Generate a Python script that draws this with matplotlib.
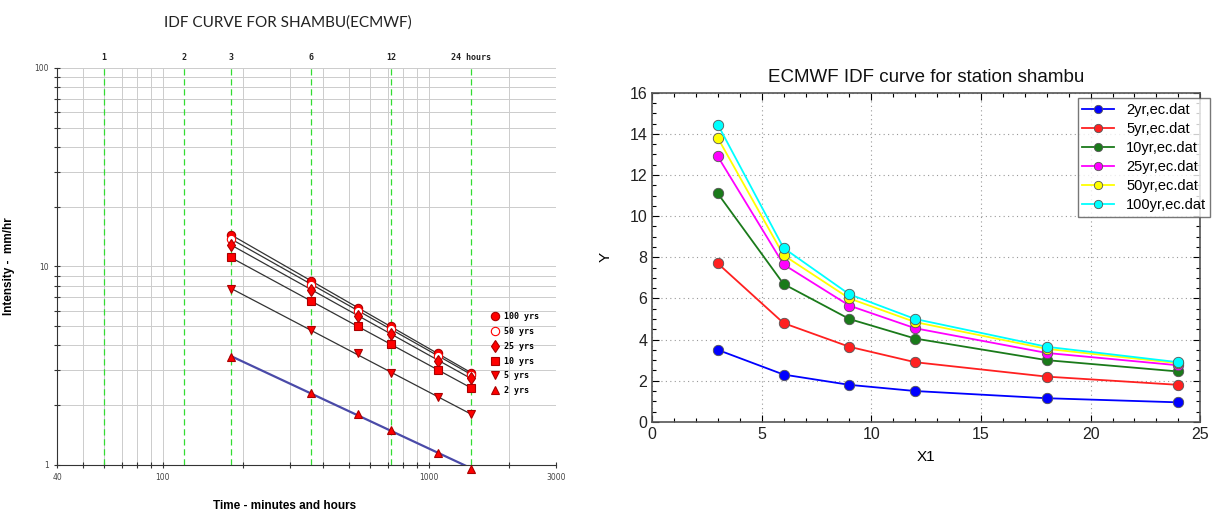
"""IDF curves for Shambu (ECMWF): log-log chart and linear chart side by side."""
import matplotlib
matplotlib.use("Agg")
import matplotlib.pyplot as plt
from matplotlib.ticker import AutoMinorLocator, FixedLocator, LogLocator, NullFormatter
import matplotlib.transforms as mtransforms
import numpy as np

# durations
duration_hr = [3, 6, 9, 12, 18, 24]
duration_min = [180, 360, 540, 720, 1080, 1440]

# intensities (mm/hr) per return period
i_2yr = [3.5, 2.3, 1.8, 1.5, 1.15, 0.95]
i_5yr = [7.7, 4.8, 3.65, 2.9, 2.2, 1.8]
i_10yr = [11.1, 6.7, 5.0, 4.05, 3.0, 2.45]
i_25yr = [12.9, 7.65, 5.65, 4.55, 3.35, 2.75]
i_50yr = [13.8, 8.1, 6.0, 4.85, 3.55, 2.85]
i_100yr = [14.45, 8.45, 6.2, 5.0, 3.65, 2.9]

hour_marks_min = [60, 120, 180, 360, 720, 1440]
hour_marks_lbl = ["1", "2", "3", "6", "12", "24 hours"]

fig = plt.figure(figsize=(12.21, 5.12), dpi=100)

# ---------------- left: log-log IDF chart ----------------
ax = fig.add_axes([0.0467, 0.0918, 0.4087, 0.7754])
ax.set_xscale("log")
ax.set_yscale("log")
ax.set_xlim(40, 3000)
ax.set_ylim(1, 100)

ax.xaxis.set_major_locator(FixedLocator([40, 100, 1000, 3000]))
ax.xaxis.set_minor_locator(LogLocator(base=10, subs=np.arange(2, 10)))
ax.xaxis.set_minor_formatter(NullFormatter())
ax.set_xticklabels(["40", "100", "1000", "3000"])
ax.yaxis.set_major_locator(FixedLocator([1, 10, 100]))
ax.yaxis.set_minor_locator(LogLocator(base=10, subs=np.arange(2, 10)))
ax.yaxis.set_minor_formatter(NullFormatter())
ax.set_yticklabels(["1", "10", "100"])
ax.tick_params(which="both", direction="inout", labelsize=5.5, labelcolor="#444444",
               length=5, width=0.8, color="#333333")
ax.tick_params(which="minor", length=4)
ax.grid(True, which="both", color="#cccccc", linewidth=0.7)
for s in ("top", "right"):
    ax.spines[s].set_visible(False)
ax.spines["left"].set_color("#333333")
ax.spines["bottom"].set_color("#333333")

for m in hour_marks_min:
    ax.axvline(m, color="#33dd33", linestyle=(0, (5, 3)), linewidth=0.9, zorder=2)
trans = mtransforms.blended_transform_factory(ax.transData, ax.transAxes)
for m, lbl in zip(hour_marks_min, hour_marks_lbl):
    ax.text(m, 1.015, lbl, transform=trans, ha="center", va="bottom",
            fontsize=6, fontweight="bold", family="DejaVu Sans Mono", color="#222222")

left_series = [
    (i_100yr, "100 yrs", dict(marker="o", mfc="red", mec="#aa0000"), "#333333"),
    (i_50yr, "50 yrs", dict(marker="o", mfc="white", mec="red"), "#333333"),
    (i_25yr, "25 yrs", dict(marker="d", mfc="red", mec="#aa0000"), "#333333"),
    (i_10yr, "10 yrs", dict(marker="s", mfc="red", mec="#aa0000"), "#333333"),
    (i_5yr, "5 yrs", dict(marker="v", mfc="red", mec="#aa0000"), "#333333"),
    (i_2yr, "2 yrs", dict(marker="^", mfc="red", mec="#aa0000"), "#4a4aa8"),
]
xd = np.array(duration_min, dtype=float)
xfit = np.linspace(xd[0], xd[-1], 50)
for vals, lbl, mk, lc in left_series:
    k, b = np.polyfit(np.log10(xd), np.log10(vals), 1)
    ax.plot(xfit, 10 ** (b + k * np.log10(xfit)), color=lc,
            linewidth=1.6 if lc != "#333333" else 0.9, zorder=3)
    ax.plot(xd, vals, linestyle="none", markersize=6, label=lbl, zorder=4,
            clip_on=False, markeredgewidth=0.8, **mk)

leg = ax.legend(loc="upper left", bbox_to_anchor=(0.86, 0.40), frameon=False,
                prop=dict(family="DejaVu Sans Mono", weight="bold", size=6),
                handlelength=0.8, handletextpad=0.6, labelspacing=0.7,
                borderpad=0.2)

ax.set_ylabel("Intensity -  mm/hr", fontsize=8.5, fontweight="bold",
              family="Liberation Sans")
ax.yaxis.set_label_coords(-0.084, 0.5)
ax.set_xlabel("Time - minutes and hours", fontsize=8.5, fontweight="bold",
              family="Liberation Sans")
ax.xaxis.set_label_coords(0.455, -0.087)
fig.text(0.236, 0.955, "IDF CURVE FOR SHAMBU(ECMWF)", ha="center", va="center",
         fontsize=11, family="Lato", color="#222222")

# ---------------- right: linear IDF chart ----------------
ax2 = fig.add_axes([0.534, 0.176, 0.449, 0.643])
right_series = [
    (i_2yr, "2yr,ec.dat", "#0000ff"),
    (i_5yr, "5yr,ec.dat", "#ff2020"),
    (i_10yr, "10yr,ec.dat", "#1a7a1a"),
    (i_25yr, "25yr,ec.dat", "#ff00ff"),
    (i_50yr, "50yr,ec.dat", "#ffff00"),
    (i_100yr, "100yr,ec.dat", "#00ffff"),
]
for vals, lbl, c in right_series:
    ax2.plot(duration_hr, vals, color=c, linewidth=1.3, marker="o", markersize=7.5,
             markerfacecolor=c, markeredgecolor="#555555", markeredgewidth=0.6,
             label=lbl)

ax2.set_xlim(0, 25)
ax2.set_ylim(0, 16)
ax2.set_xticks(range(0, 26, 5))
ax2.set_yticks(range(0, 17, 2))
ax2.xaxis.set_minor_locator(AutoMinorLocator(5))
ax2.yaxis.set_minor_locator(AutoMinorLocator(4))
ax2.tick_params(which="both", direction="in", top=True, right=True, labelsize=11.5,
                width=0.8)
ax2.tick_params(which="major", length=5)
ax2.tick_params(which="minor", length=3)
ax2.grid(True, which="major", color="#999999", linestyle=(0, (1, 3)), linewidth=0.8)
for s in ax2.spines.values():
    s.set_color("#555555")
    s.set_linewidth(1.2)
for t in ax2.get_xticklabels() + ax2.get_yticklabels():
    t.set_family("Liberation Sans")
    t.set_color("#222222")

ax2.set_title("ECMWF IDF curve for station shambu", fontsize=13.5,
              family="Liberation Sans", color="#111111", pad=8)
ax2.set_xlabel("X1", fontsize=11, family="Liberation Sans", labelpad=6)
ax2.set_ylabel("Y", fontsize=11, family="Liberation Sans", labelpad=12)

leg2 = ax2.legend(loc="upper right", bbox_to_anchor=(1.032, 1.005),
                  prop=dict(family="Liberation Sans", size=10.5),
                  frameon=True, fancybox=False, edgecolor="#555555",
                  handlelength=2.2, labelspacing=0.35, borderpad=0.3,
                  markerscale=0.8)
leg2.get_frame().set_linewidth(1.0)

fig.savefig("out.png", dpi=100)
